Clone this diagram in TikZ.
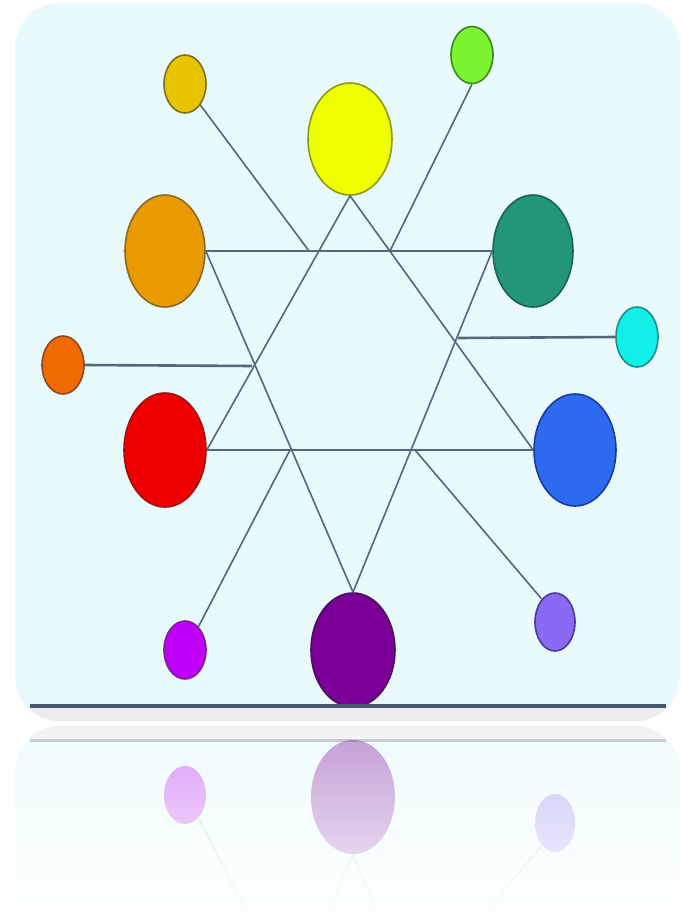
\documentclass[tikz,border=0pt]{standalone}
\usetikzlibrary{shapes.geometric,fadings}
\definecolor{panel}{HTML}{E8FAFB}
\definecolor{panelR}{HTML}{F0FCFC}
\definecolor{bandgray}{HTML}{ECECEC}
\definecolor{bandR}{HTML}{F2F2F2}
\definecolor{baseline}{HTML}{45576A}
\definecolor{baselineR}{HTML}{C5CBD2}
\definecolor{linkc}{HTML}{56667C}
\definecolor{cgold}{HTML}{E8C400}\definecolor{cgoldD}{HTML}{7E7015}
\definecolor{clime}{HTML}{7CF530}\definecolor{climeD}{HTML}{3A8A20}
\definecolor{cyel}{HTML}{EEFF00}\definecolor{cyelD}{HTML}{8E9A10}
\definecolor{corg}{HTML}{E89A00}\definecolor{corgD}{HTML}{8A6A25}
\definecolor{cteal}{HTML}{23967A}\definecolor{ctealD}{HTML}{1A6455}
\definecolor{ccyan}{HTML}{10F0E8}\definecolor{ccyanD}{HTML}{208A8A}
\definecolor{cro}{HTML}{F06A00}\definecolor{croD}{HTML}{8A4A25}
\definecolor{cred}{HTML}{EE0000}\definecolor{credD}{HTML}{A01010}
\definecolor{cblue}{HTML}{2E6AF0}\definecolor{cblueD}{HTML}{1A3AA0}
\definecolor{cmag}{HTML}{C000F8}\definecolor{cmagD}{HTML}{7A2090}
\definecolor{cpur}{HTML}{7A0098}\definecolor{cpurD}{HTML}{4A1060}
\definecolor{cvio}{HTML}{8A6AF5}\definecolor{cvioD}{HTML}{4A3A9A}
\tikzfading[name=fadedown, top color=transparent!100, bottom color=transparent!12]
\begin{document}
\begin{tikzpicture}[x=1pt,y=-1pt,
  ball/.style={ellipse, inner sep=0pt, line width=1.6pt},
  link/.style={draw=linkc, line width=1.6pt},
  hlink/.style={draw=linkc, line width=2.6pt},
  rball/.style={ellipse, inner sep=0pt, fill opacity=0.35},
  rlink/.style={draw=linkc, line width=1.4pt, draw opacity=0.15},
]
\useasboundingbox (0,0) rectangle (681,921);
\fill[white] (0,0) rectangle (681,921);
% main panel
\begin{scope}
  \clip[rounded corners=45pt] (15,3) rectangle (680,721);
  \fill[panel] (15,3) rectangle (680,721);
  \fill[bandgray] (15,707) rectangle (680,721);
\end{scope}
% nodes
\node[ball, fill=cgold, draw=cgoldD, minimum width=42pt, minimum height=58pt] (go) at (185,84) {};
\node[ball, fill=clime, draw=climeD, minimum width=42pt, minimum height=57pt] (li) at (472,55) {};
\node[ball, fill=cyel, draw=cyelD, minimum width=84pt, minimum height=112pt] (ye) at (350,139) {};
\node[ball, fill=corg, draw=corgD, minimum width=80pt, minimum height=112pt] (or) at (165,251) {};
\node[ball, fill=cteal, draw=ctealD, minimum width=80pt, minimum height=112pt] (te) at (533,251) {};
\node[ball, fill=ccyan, draw=ccyanD, minimum width=42pt, minimum height=60pt] (cy) at (637,337) {};
\node[ball, fill=cro, draw=croD, minimum width=42pt, minimum height=58pt] (ro) at (63,365) {};
\node[ball, fill=cred, draw=credD, minimum width=82pt, minimum height=114pt] (re) at (165,450) {};
\node[ball, fill=cblue, draw=cblueD, minimum width=82pt, minimum height=112pt] (bl) at (575,450) {};
\node[ball, fill=cmag, draw=cmagD, minimum width=42pt, minimum height=58pt] (ma) at (185,650) {};
\node[ball, fill=cpur, draw=cpurD, minimum width=84pt, minimum height=114pt] (pu) at (353,650) {};
\node[ball, fill=cvio, draw=cvioD, minimum width=40pt, minimum height=58pt] (vi) at (555,622) {};
% free ends of the tertiary links
\coordinate (goE) at (309,251);
\coordinate (liE) at (390,251);
\coordinate (roE) at (252,366);
\coordinate (cyE) at (458,338);
\coordinate (maE) at (290,450);
\coordinate (viE) at (415,450);
% connectors
\draw[hlink] (or.east) -- (te.west);
\draw[hlink] (re.east) -- (bl.west);
\draw[link] (ye.south) -- (re.east);
\draw[link] (ye.south) -- (bl.west);
\draw[link] (or.east) -- (pu.north);
\draw[link] (te.west) -- (pu.north);
\draw[link] (go.south east) -- (goE);
\draw[link] (li.south) -- (liE);
\draw[hlink] (ro.east) -- (roE);
\draw[hlink] (cy.west) -- (cyE);
\draw[link] (ma.60) -- (maE);
\draw[link] (vi.120) -- (viE);
% base line
\draw[line width=3.5pt, draw=baseline] (30,706) -- (666,706);
% reflection
\begin{scope}
  \clip[rounded corners=45pt] (15,726) rectangle (680,1400);
  \fill[panelR] (15,726) rectangle (680,921);
  \fill[bandR] (15,726) rectangle (680,738);
  \draw[line width=3pt, draw=baselineR] (30,740) -- (666,740);
  \node[rball, fill=cmag, minimum width=42pt, minimum height=58pt] (rma) at (185,795) {};
  \node[rball, fill=cpur, minimum width=84pt, minimum height=114pt] (rpu) at (353,797) {};
  \node[rball, fill=cvio, minimum width=40pt, minimum height=58pt] (rvi) at (555,823) {};
  \coordinate (rmaE) at (290,995);
  \coordinate (rviE) at (415,995);
  \coordinate (rorE) at (205,1194);
  \coordinate (rteE) at (493,1194);
  \draw[rlink] (rma.-60) -- (rmaE);
  \draw[rlink] (rvi.-120) -- (rviE);
  \draw[rlink] (rpu.south) -- (rorE);
  \draw[rlink] (rpu.south) -- (rteE);
\end{scope}
\fill[white, path fading=fadedown] (0,745) rectangle (681,921);
\end{tikzpicture}
\end{document}
